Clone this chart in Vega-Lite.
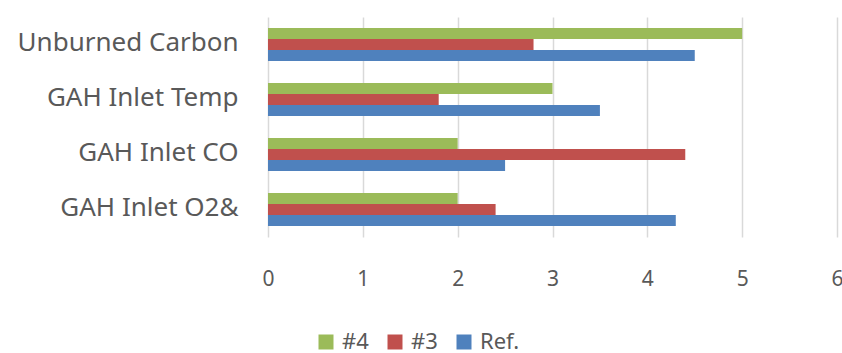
{
  "$schema": "https://vega.github.io/schema/vega-lite/v6.json",
  "width": 569,
  "height": 220,
  "autosize": {"type": "none"},
  "padding": {"left": 268, "top": 17, "right": 5, "bottom": 116},
  "background": "white",
  "config": {
    "view": {"stroke": null},
    "font": "Noto Sans"
  },
  "data": {
    "values": [
      {"category": "Unburned Carbon", "series": "#4", "value": 5.0},
      {"category": "Unburned Carbon", "series": "#3", "value": 2.8},
      {"category": "Unburned Carbon", "series": "Ref.", "value": 4.5},
      {"category": "GAH Inlet Temp", "series": "#4", "value": 3.0},
      {"category": "GAH Inlet Temp", "series": "#3", "value": 1.8},
      {"category": "GAH Inlet Temp", "series": "Ref.", "value": 3.5},
      {"category": "GAH Inlet CO", "series": "#4", "value": 2.0},
      {"category": "GAH Inlet CO", "series": "#3", "value": 4.4},
      {"category": "GAH Inlet CO", "series": "Ref.", "value": 2.5},
      {"category": "GAH Inlet O2&", "series": "#4", "value": 2.0},
      {"category": "GAH Inlet O2&", "series": "#3", "value": 2.4},
      {"category": "GAH Inlet O2&", "series": "Ref.", "value": 4.3}
    ]
  },
  "mark": {"type": "bar"},
  "encoding": {
    "y": {
      "field": "category",
      "type": "nominal",
      "sort": ["Unburned Carbon", "GAH Inlet Temp", "GAH Inlet CO", "GAH Inlet O2&"],
      "scale": {"paddingInner": 0.4, "paddingOuter": 0.2},
      "axis": {
        "title": null,
        "domain": false,
        "ticks": false,
        "labelFontSize": 26,
        "labelColor": "#595959",
        "labelPadding": 30,
        "labelLimit": 400,
        "labelBaseline": "middle",
        "labelOffset": -2
      }
    },
    "yOffset": {
      "field": "series",
      "type": "nominal",
      "sort": ["#4", "#3", "Ref."],
      "scale": {"paddingInner": 0, "paddingOuter": 0}
    },
    "x": {
      "field": "value",
      "type": "quantitative",
      "scale": {"domain": [0, 6], "nice": false},
      "axis": {
        "title": null,
        "domain": false,
        "ticks": false,
        "values": [0, 1, 2, 3, 4, 5, 6],
        "format": "d",
        "labelFontSize": 21,
        "labelColor": "#595959",
        "labelPadding": 31,
        "labelFlush": false,
        "grid": true,
        "gridColor": "#d9d9d9",
        "gridWidth": 1.5
      }
    },
    "color": {
      "field": "series",
      "type": "nominal",
      "sort": ["#4", "#3", "Ref."],
      "scale": {"domain": ["#4", "#3", "Ref."], "range": ["#9BBB59", "#C0504D", "#4F81BD"]},
      "legend": {
        "title": null,
        "orient": "none",
        "direction": "horizontal",
        "legendX": 43,
        "legendY": 310,
        "padding": 4,
        "symbolType": "square",
        "symbolSize": 225,
        "symbolStrokeWidth": 0,
        "labelFontSize": 22,
        "labelColor": "#595959",
        "labelLimit": 300,
        "columnPadding": 15,
        "labelOffset": 5
      }
    }
  }
}
